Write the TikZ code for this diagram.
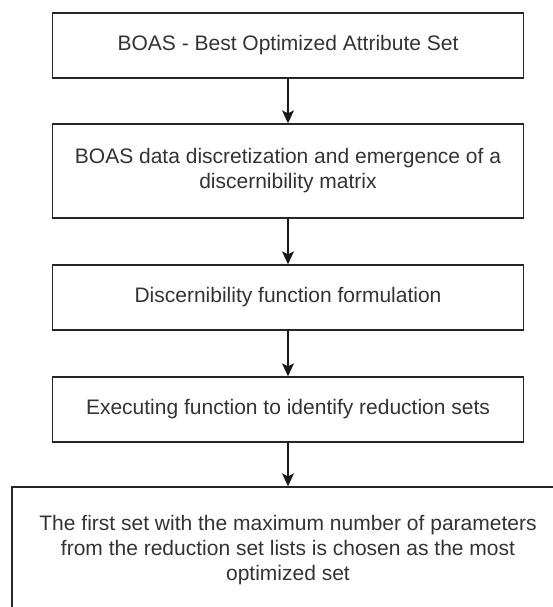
\documentclass[tikz,border=0pt]{standalone}
\usepackage{fontspec}
\setmainfont{Liberation Sans}
\usetikzlibrary{arrows.meta,positioning}

\begin{document}
\begin{tikzpicture}[x=1pt, y=-1pt,
  stepbox/.style={draw=black!85, line width=1.4pt, align=center, inner sep=0pt,
    text=black!80, font=\fontsize{21}{25}\selectfont,
    minimum width=471pt, minimum height=65pt},
  flow/.style={-{Stealth[length=13pt,width=12pt,inset=3pt]}, draw=black!90, line width=1.2pt}]

\useasboundingbox (0,0) rectangle (553,607);
\clip (0,0) rectangle (553,607);

% --- Steps ---
\node[stepbox] (boas) at (288,45.5) {BOAS - Best Optimized Attribute Set};
\node[stepbox, minimum height=94pt] (discret) at (288,171)
  {BOAS data discretization and emergence of a\\discernibility matrix};
\node[stepbox] (discfun) at (288,297.5) {Discernibility function formulation};
\node[stepbox] (reduct) at (288,409.5) {Executing function to identify reduction sets};

% last box runs off the page
\node[stepbox, minimum width=552pt, minimum height=126pt] (chosen) at (288,550)
  {The first set with the maximum number of parameters\\
   from the reduction set lists is chosen as the most\\
   optimized set};

% --- Arrows ---
\draw[flow] (boas) -- (discret);
\draw[flow] (discret) -- (discfun);
\draw[flow] (discfun) -- (reduct);
\draw[flow] (reduct) -- (chosen);

\end{tikzpicture}
\end{document}
